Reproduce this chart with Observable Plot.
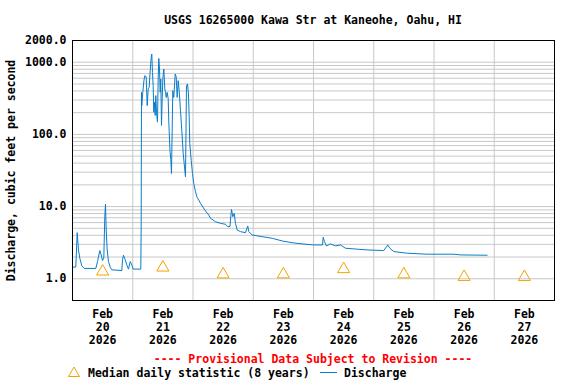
<!DOCTYPE html>
<html>
<head>
<meta charset="utf-8">
<script src="https://cdn.jsdelivr.net/npm/d3@7"></script>
<script src="https://cdn.jsdelivr.net/npm/@observablehq/plot@0.6"></script>
<style>
  html, body { margin: 0; padding: 0; background: #fff; }
  #wrap { position: relative; width: 576px; height: 384px; overflow: hidden;
          font-family: "DejaVu Sans Mono", monospace; font-weight: bold; font-size: 11.5px; }
  #wrap svg.chart { position: absolute; left: 0; top: 0; }
  .abs { position: absolute; white-space: pre; line-height: 14px; }
</style>
</head>
<body>
<div id="wrap"></div>
<script>
// ---- data ----
const titleText = "USGS 16265000 Kawa Str at Kaneohe, Oahu, HI";
const yLabel = "Discharge, cubic feet per second";
const startUTC = Date.UTC(2026, 1, 20); // Feb 20 2026 00:00
const endUTC = Date.UTC(2026, 1, 28);

// hours since Feb 20 00:00 and discharge (cfs)
const dischargeHours = [0, 1.31, 1.87, 2.39, 2.91, 3.70, 4.66, 9.28, 9.96, 10.87, 11.43, 11.95, 12.47, 12.86, 13.14, 13.42, 13.82, 14.34, 15.02, 15.65, 19.64, 19.92, 20.31, 20.99, 21.63, 22.30, 22.98, 23.62, 24.18, 27.20, 27.36, 27.48, 27.6, 28.0, 28.48, 28.80, 29.35, 29.75, 30.15, 30.55, 30.95, 31.35, 31.59, 31.86, 32.14, 32.38, 32.66, 32.94, 33.18, 33.46, 33.85, 34.13, 34.37, 34.65, 34.93, 35.17, 35.45, 35.73, 35.97, 36.37, 36.77, 37.05, 37.33, 37.72, 38.12, 38.36, 38.83, 39.15, 39.43, 39.95, 40.35, 40.91, 41.30, 41.70, 42.10, 42.50, 43.02, 43.54, 44.10, 44.62, 45.01, 45.41, 45.81, 46.20, 46.48, 46.72, 47.28, 47.80, 48.31, 48.99, 49.67, 50.31, 50.98, 51.66, 52.97, 54.29, 54.96, 56.96, 58.95, 60.94, 61.86, 62.73, 62.93, 63.33, 63.85, 64.41, 64.92, 65.60, 66.91, 68.90, 69.82, 70.22, 71.57, 75.56, 79.54, 83.52, 87.51, 91.49, 96.11, 99.58, 99.86, 100.37, 101.17, 102.76, 104.75, 106.74, 108.73, 113.40, 117.38, 123.99, 125.59, 126.38, 127.98, 133.31, 141.28, 151.87, 154.54, 165.17];
const dischargeCfs = [1.45, 1.45, 4.35, 2.5, 1.93, 1.51, 1.39, 1.39, 1.73, 2.46, 2.14, 1.79, 1.93, 7.24, 10.8, 4.74, 2.51, 1.73, 1.45, 1.33, 1.30, 1.83, 2.12, 1.83, 1.56, 1.36, 1.73, 1.56, 1.36, 1.36, 5.38, 383, 251, 383, 568, 651, 630, 251, 427, 450, 764, 1165, 1297, 720, 474, 203, 279, 183, 345, 203, 148, 585, 1128, 805, 383, 585, 133, 311, 585, 805, 427, 383, 325, 383, 311, 148, 60, 45, 28.7, 404, 325, 687, 630, 325, 556, 404, 214, 113, 54, 35.4, 25.8, 474, 500, 364, 173, 74.5, 43.8, 28.7, 20.9, 16, 13.3, 12.3, 11.1, 10.2, 8.7, 7.64, 6.9, 6.17, 5.86, 5.69, 5.27, 5.3, 6.51, 9.15, 7.24, 8.06, 5.86, 4.74, 4.5, 4.35, 5.38, 4.5, 4.05, 3.83, 3.64, 3.34, 3.16, 3.04, 2.94, 2.94, 3.76, 3.27, 2.85, 3.04, 2.85, 2.94, 2.65, 2.57, 2.51, 2.46, 2.94, 2.65, 2.38, 2.26, 2.19, 2.19, 2.14, 2.12];

// median daily statistic (plotted at noon)
const medianDays = [20, 21, 22, 23, 24, 25, 26, 27];
const medianCfs = [1.26, 1.43, 1.15, 1.15, 1.36, 1.15, 1.06, 1.06];

// axis ticks
const yTicks = [0.5, 1, 10, 100, 1000, 2000];
const yGrid = [1, 2, 3, 4, 5, 6, 7, 8, 9, 10, 20, 30, 40, 50, 60, 70, 80, 90, 100, 200, 300, 400, 500, 600, 700, 800, 900, 1000];
const xGridDays = [21, 22, 23, 24, 25, 26, 27];
const xLabelDays = [20, 21, 22, 23, 24, 25, 26, 27];
const monthLabel = "Feb";
const yearLabel = "2026";

// ---- build records ----
const discharge = dischargeHours.map((h, i) => ({date: new Date(startUTC + h * 3600e3), cfs: dischargeCfs[i]}));
const medians = medianDays.map((d, i) => ({date: new Date(Date.UTC(2026, 1, d, 12)), cfs: medianCfs[i]}));
const xGrid = xGridDays.map(d => new Date(Date.UTC(2026, 1, d)));
const xLabels = xLabelDays.map(d => ({date: new Date(Date.UTC(2026, 1, d, 12)), text: `${monthLabel}\n${d}\n${yearLabel}`}));

const lineColor = "#0a7cca";
const triColor = "#f5a200";

const chart = Plot.plot({
  width: 576,
  height: 384,
  marginLeft: 72,
  marginRight: 22,
  marginTop: 40,
  marginBottom: 84,
  style: {fontFamily: '"DejaVu Sans Mono", monospace', fontSize: "11.5px", fontWeight: "bold", color: "#000", background: "#fff"},
  x: {type: "utc", domain: [new Date(startUTC), new Date(endUTC)]},
  y: {type: "log", domain: [0.5, 2000]},
  marks: [
    Plot.ruleY(yGrid, {stroke: "#c8c8c8", strokeWidth: 1}),
    Plot.ruleX(xGrid, {stroke: "#c8c8c8", strokeWidth: 1}),
    Plot.axisY(yTicks, {tickFormat: d => d.toFixed(1), tickSize: 0, tickPadding: 6, label: yLabel, labelAnchor: "center", labelArrow: "none", labelOffset: 66, fontSize: 11.5}),
    Plot.axisX({ticks: [], label: null, tickSize: 0}),
    Plot.text(xLabels, {x: "date", frameAnchor: "bottom", dy: 8, lineAnchor: "top", text: "text", lineHeight: 1.14, fill: "#000"}),
    Plot.line(discharge, {x: "date", y: "cfs", stroke: lineColor, strokeWidth: 1}),
    Plot.dot(medians, {x: "date", y: "cfs", symbol: "triangle", r: 4.5, stroke: triColor, fill: "none", strokeWidth: 1}),
    Plot.frame({stroke: "#000", strokeWidth: 1})
  ]
});
chart.classList.add("chart");
const wrap = document.getElementById("wrap");
wrap.appendChild(chart);

function addText(txt, css) {
  const d = document.createElement("div");
  d.className = "abs";
  d.textContent = txt;
  Object.assign(d.style, css);
  wrap.appendChild(d);
  return d;
}
addText(titleText, {left: "72px", width: "482px", textAlign: "center", top: "13px"});
addText("---- Provisional Data Subject to Revision ----", {left: "72px", width: "482px", textAlign: "center", top: "352px", color: "#ff0000"});
// legend
const leg = document.createElementNS("http://www.w3.org/2000/svg", "svg");
leg.setAttribute("width", "16"); leg.setAttribute("height", "14");
leg.style.position = "absolute"; leg.style.left = "66px"; leg.style.top = "365px";
leg.innerHTML = `<path d="M8,2 L13.5,11.5 L2.5,11.5 Z" fill="none" stroke="${triColor}" stroke-width="1"/>`;
wrap.appendChild(leg);
addText("Median daily statistic (8 years)", {left: "88px", top: "366px"});
const ll = document.createElement("div");
Object.assign(ll.style, {position: "absolute", left: "320px", top: "372px", width: "17px", height: "0", borderTop: `1px solid ${lineColor}`});
wrap.appendChild(ll);
addText("Discharge", {left: "344px", top: "366px"});
</script>
</body>
</html>
